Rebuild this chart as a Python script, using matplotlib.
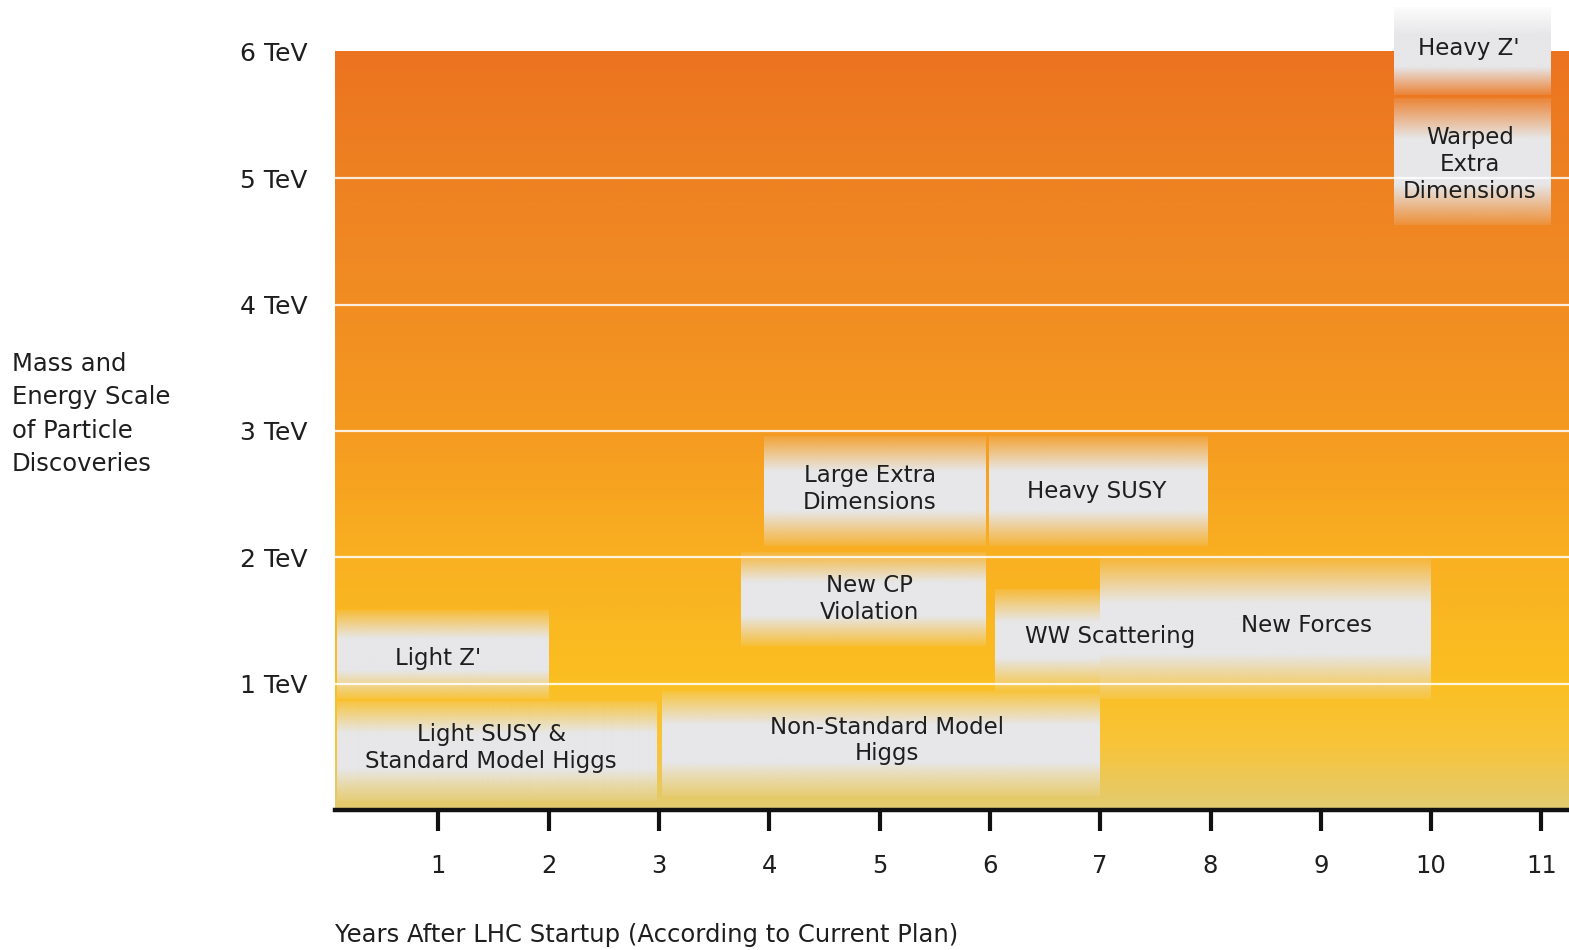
import numpy as np
import matplotlib
matplotlib.use("Agg")
import matplotlib.pyplot as plt
from matplotlib.colors import LinearSegmentedColormap, to_rgb

# discovery reach: label, x0, x1 (years), y0, y1 (TeV), label position
labels = ["Light Z'", "Light SUSY &\nStandard Model Higgs", "Non-Standard Model\nHiggs",
          "New CP\nViolation", "Large Extra\nDimensions", "Heavy SUSY",
          "WW Scattering", "New Forces", "Heavy Z'", "Warped\nExtra\nDimensions"]
x_start = [0.08, 0.08, 3.03, 3.74, 3.95, 5.99, 6.05, 7.00, 9.66, 9.66]
x_end   = [2.00, 2.98, 7.00, 5.96, 5.96, 7.97, 7.00, 10.00, 11.08, 11.08]
y_low   = [0.88, 0.07, 0.11, 1.30, 2.09, 2.09, 0.94, 0.88, 5.66, 4.63]
y_high  = [1.58, 0.86, 0.94, 2.04, 2.96, 2.96, 1.74, 1.99, 6.35, 5.63]
label_x = [1.00, 1.48, 5.07, 4.91, 4.91, 6.97, 7.09, 8.87, 10.34, 10.35]
label_y = [1.20, 0.49, 0.55, 1.67, 2.54, 2.52, 1.37, 1.46, 6.03, 5.11]

years = list(range(1, 12))
tev = [1, 2, 3, 4, 5, 6]
tev_labels = ["%d TeV" % t for t in tev]

# background colour stops, energy (TeV) -> colour
bg_levels = [0.0, 0.5, 1.0, 2.0, 3.0, 4.0, 5.0, 6.0]
bg_colors = ["#e2cb70", "#f8c43a", "#fbbf22", "#f9b021", "#f59a20", "#f18d22", "#ee8222", "#ec7320"]

plt.rcParams['font.family'] = ['DejaVu Sans']
txt_col = "#1e1e1e"

fig = plt.figure(figsize=(15.69, 9.5), dpi=100)
ax = fig.add_axes([335 / 1569, 140 / 950, 1 - 335 / 1569, 810 / 950])
xmin, xmax = 0.063, 11.25
ax.set_xlim(xmin, xmax)
ax.set_ylim(0, 6.41)

# vertical orange gradient up to 6 TeV
cmap = LinearSegmentedColormap.from_list(
    "bg", list(zip(np.array(bg_levels) / 6.0, bg_colors)))
grad = np.linspace(0, 1, 400).reshape(-1, 1)
ax.imshow(grad, cmap=cmap, aspect="auto", origin="lower",
          extent=[xmin, xmax, 0, 6], zorder=0, interpolation="bilinear")

# grey boxes that fade out towards top and bottom
gray = to_rgb("#e7e7e9")
t = np.linspace(0, 1, 200)
alpha = np.clip(0.12 + 0.88 * np.minimum(t, 1 - t) / 0.32, 0, 1)
box = np.zeros((len(t), 1, 4))
box[:, 0, :3] = gray
box[:, 0, 3] = alpha
for i in range(len(labels)):
    ax.imshow(box, aspect="auto", origin="lower",
              extent=[x_start[i], x_end[i], y_low[i], y_high[i]],
              zorder=1, interpolation="bilinear")

for t_ in tev[:-1]:
    ax.axhline(t_, color="white", lw=1.6, alpha=0.85, zorder=2)

for i in range(len(labels)):
    ax.text(label_x[i], label_y[i], labels[i], ha="center", va="center",
            fontsize=16.5, color=txt_col, linespacing=1.22, zorder=3)

for s in ["left", "top", "right"]:
    ax.spines[s].set_visible(False)
ax.spines["bottom"].set_linewidth(3.2)
ax.spines["bottom"].set_color("#111111")
ax.spines["bottom"].set_zorder(4)

ax.set_xticks(years)
ax.set_xticklabels([str(y) for y in years])
ax.tick_params(axis="x", direction="out", length=15, width=3, color="#111111",
               pad=17, labelsize=17.5, labelcolor=txt_col)
ax.set_yticks(tev)
ax.set_yticklabels(tev_labels)
ax.tick_params(axis="y", length=0, pad=20, labelsize=18, labelcolor=txt_col)

fig.text(12 / 1569, 1 - 414 / 950,
         "Mass and\nEnergy Scale\nof Particle\nDiscoveries",
         ha="left", va="center", fontsize=17.5, color=txt_col, linespacing=1.48)
fig.text(335 / 1569, 1 - 935 / 950,
         "Years After LHC Startup (According to Current Plan)",
         ha="left", va="center", fontsize=17.5, color=txt_col)

fig.savefig("out.png", dpi=100)
